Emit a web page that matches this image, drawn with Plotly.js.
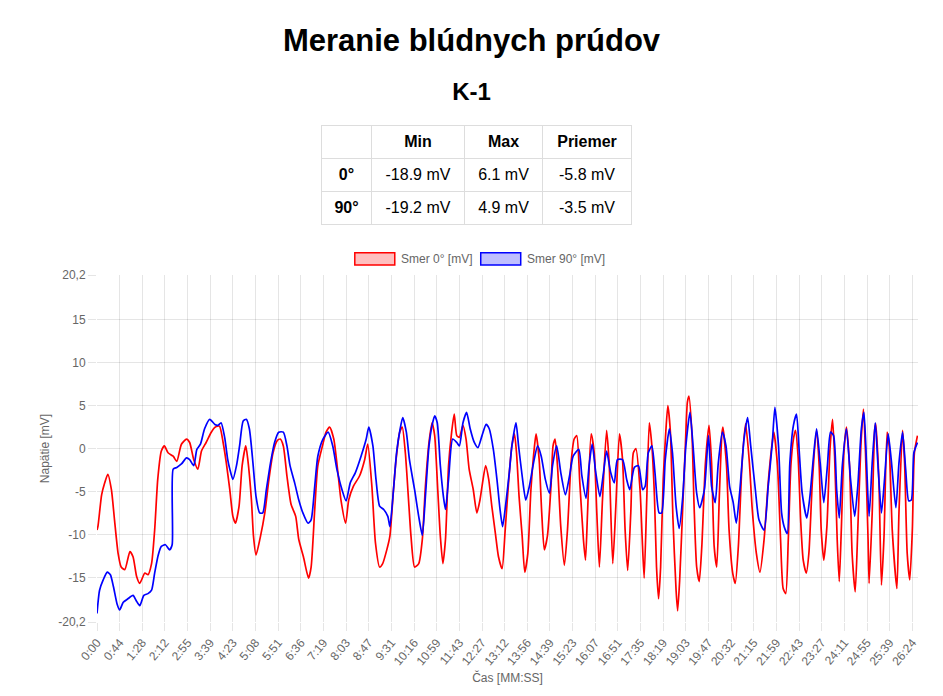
<!DOCTYPE html>
<html>
<head>
<meta charset="utf-8">
<script src="https://cdn.plot.ly/plotly-3.0.1.min.js"></script>
<style>
  html, body { margin: 0; padding: 0; background: #fff; overflow: hidden; }
  body { width: 943px; height: 696px; position: relative; font-family: "Liberation Sans", Arial, sans-serif; color: #000; }
  #title { position: absolute; top: 22px; left: 0; width: 943px; text-align: center; font-size: 31px; font-weight: bold; line-height: 37px; }
  #sub { position: absolute; top: 78px; left: 0; width: 943px; text-align: center; font-size: 24px; font-weight: bold; line-height: 28px; }
  #stats { position: absolute; top: 125px; left: 321px; border-collapse: collapse; table-layout: fixed; font-size: 16px; }
  #stats td, #stats th { border: 1px solid #ddd; height: 32px; padding: 0; text-align: center; }
  #stats th { font-weight: bold; }
  #chart { position: absolute; top: 230px; left: 0; width: 943px; height: 466px; }
</style>
</head>
<body>
<div id="title">Meranie blúdnych prúdov</div>
<div id="sub">K-1</div>
<table id="stats"></table>
<div id="chart"></div>
<script>
// súhrnná tabuľka
const statCols = ['Min', 'Max', 'Priemer'];
const statRows = ['0°', '90°'];
const statMin = [-18.9, -19.2];
const statMax = [6.1, 4.9];
const statAvg = [-5.8, -3.5];

// popisy osi x (kazdy 44. s)
const timeLabels = ['0:00','0:44','1:28','2:12','2:55','3:39','4:23','5:08','5:51','6:36','7:19','8:03',
  '8:47','9:31','10:16','10:59','11:43','12:27','13:12','13:56','14:39','15:23','16:07','16:51',
  '17:35','18:19','19:03','19:47','20:32','21:15','21:59','22:43','23:27','24:11','24:55','25:39','26:24'];

// Smer 0° - cas [s], napatie [mV]
const t0 = [0,2,9,15,21,28,34,41,47,54,64,70,77,83,93,99,106,112,118,125,131,138,148,155,164,174,180,188,196,203,212,222,230,238,245,251,
  258,264,269,276,282,289,293,300,304,309,317,326,334,342,350,356,362,369,377,386,392,401,411,416,423,429,438,445,452,460,468,474,483,489,498,510,520,526,
  534,541,549,555,563,569,576,581,588,593,599,606,610,617,625,632,638,645,651,656,662,667,672,677,683,689,694,699,704,711,717,723,731,738,744,749,755,761,767,774,780,787,793,800,806,
  811,815,820,826,831,837,843,850,853,859,864,869,875,882,886,890,895,901,908,914,921,927,932,938,945,949,953,960,966,971,976,982,990,995,1002,1008,1015,1021,1026,1031,1037,1042,1047,1055,1059,1063,1068,1073,
  1078,1083,1087,1091,1095,1100,1105,1109,1114,1119,1125,1128,1132,1138,1143,1147,1150,1156,1160,1165,1170,1175,1182,1189,1194,1199,1204,1209,1214,1216,1223,1228,1235,1240,1246,1253,1260,1267,1273,1281,1288,1296,1304,1311,1315,1322,1328,1333,
  1338,1343,1348,1353,1357,1362,1367,1372,1378,1383,1390,1398,1403,1407,1412,1418,1424,1429,1433,1438,1442,1446,1451,1456,1462,1467,1473,1478,1484,1489,1493,1498,1500,1506,1511,1513,1519,1524,1529,1535,1539,1545,1554,1558,1565,1569,1574,1579,1584,1588,1594];
const v0 = [-9.5,-9.0,-5.4,-4.0,-3.0,-4.8,-8.3,-12.2,-13.8,-14.1,-12.0,-12.6,-14.9,-15.7,-14.5,-14.7,-13.4,-9.5,-3.6,-0.3,0.3,-0.5,-0.9,-1.5,0.5,1.1,0.7,-1.3,-2.4,-0.3,0.7,1.9,2.5,2.6,0.7,-1.6,
  -4.8,-7.9,-8.7,-6.7,-2.0,0.3,-1.3,-6.0,-10.2,-12.4,-10.4,-7.5,-3.6,-0.5,0.9,1.1,0.3,-3.2,-6.5,-7.9,-10.6,-12.6,-15.1,-13.8,-7.1,-2.0,0.3,1.9,2.5,1.1,-2.8,-6.0,-8.7,-6.0,-4.4,-3.2,-1.3,0.5,
  -4.4,-11.0,-13.8,-13.4,-11.8,-10.2,-4.8,-1.3,1.9,2.5,-0.5,-6.7,-10.2,-13.8,-13.4,-10.6,-4.4,0.7,3.0,1.5,-4.8,-10.2,-13.4,-10.6,-2.0,1.9,4.0,1.5,1.3,2.7,1.1,-2.4,-4.8,-7.5,-6.0,-4.0,-2.0,-3.6,-6.7,-9.9,-12.6,-14.0,-9.5,-3.6,0.3,
  1.7,-0.5,-5.6,-10.2,-14.4,-12.2,-4.8,0.3,1.7,-1.3,-7.5,-11.8,-10.2,-4.4,0.3,1.1,-2.4,-9.1,-13.6,-9.5,-1.7,1.1,1.5,-4.0,-10.6,-13.0,-7.5,1.7,-0.5,-7.5,-13.8,-6.0,2.1,-1.7,-13.4,-6.7,1.7,-1.3,-9.5,-14.2,-7.5,-0.5,0.0,-4.8,-10.2,-15.1,-6.0,3.0,
  0.3,-5.6,-13.8,-17.5,-13.8,-3.6,1.9,5.0,1.9,-8.3,-16.5,-18.9,-15.3,-6.7,0.3,5.4,6.1,1.5,-6.7,-13.8,-15.5,-11.4,-1.7,2.7,-1.7,-11.4,-13.8,-5.6,1.7,2.5,-2.0,-9.5,-14.5,-15.7,-11.4,-2.0,2.9,-1.3,-7.1,-12.2,-14.4,-10.6,-4.0,0.3,1.9,-2.0,-10.6,-16.3,
  -16.9,-10.6,-2.0,1.1,2.1,-0.9,-8.3,-13.0,-14.5,-12.2,-3.6,2.1,-2.0,-9.5,-13.0,-9.1,-0.1,3.4,-0.9,-10.6,-15.5,-9.5,-0.5,2.5,-2.0,-12.2,-16.7,-9.5,0.3,4.6,-0.5,-10.6,-15.7,-7.5,2.3,2.9,-3.6,-15.9,-10.2,1.9,0.3,-9.5,-16.3,-7.5,2.1,-1.7,-12.2,-15.3,-9.5,-0.5,1.5];

// Smer 90° - cas [s], napatie [mV]
const t90 = [0,5,12,20,26,32,39,44,51,60,70,76,83,91,99,106,112,119,125,133,141,146,148,155,164,174,180,188,194,201,209,219,229,235,241,248,254,
  258,264,271,277,284,290,296,303,309,316,322,329,337,345,353,362,369,375,384,392,400,410,416,423,429,439,449,458,466,476,484,492,502,513,523,528,
  536,542,549,557,565,569,576,582,589,594,601,607,617,625,632,638,645,651,656,661,667,673,677,683,691,699,704,711,718,725,733,740,748,756,762,770,777,783,788,795,801,806,
  814,819,826,833,840,848,856,863,871,879,885,893,901,910,918,925,936,942,950,956,962,969,977,984,990,998,1005,1011,1021,1029,1035,1044,1052,1060,1065,1071,1078,
  1084,1092,1097,1104,1112,1118,1125,1131,1138,1144,1152,1158,1165,1171,1180,1188,1194,1201,1207,1215,1222,1229,1236,1242,1249,1257,1264,1270,1279,1286,1296,1304,1312,1317,1324,1330,
  1335,1341,1346,1353,1359,1364,1370,1379,1385,1392,1398,1405,1412,1419,1425,1431,1437,1442,1448,1456,1464,1472,1478,1485,1490,1495,1500,1506,1512,1517,1524,1530,1537,1543,1552,1558,1565,1571,1577,1582,1587,1594];
const v90 = [-19.2,-16.5,-15.3,-14.4,-14.7,-16.1,-18.1,-18.8,-17.9,-17.5,-17.1,-17.7,-18.3,-17.1,-16.9,-16.5,-14.5,-12.4,-11.4,-11.2,-11.8,-11.2,-2.4,-2.2,-1.8,-1.1,-1.3,-2.0,-0.1,0.5,2.3,3.4,2.8,2.7,3.0,1.3,-1.3,
  -2.4,-3.6,-2.0,0.3,3.2,3.4,2.3,-1.7,-5.6,-7.5,-7.5,-4.8,-1.7,0.7,1.9,1.9,0.3,-2.0,-4.0,-6.0,-7.5,-8.7,-8.3,-4.4,-0.9,1.1,1.9,0.3,-2.4,-4.8,-6.1,-4.0,-2.8,-0.9,1.1,2.5,
  0.3,-3.6,-6.7,-7.1,-7.9,-9.1,-4.8,-0.5,2.3,3.6,1.9,-1.3,-4.8,-7.9,-10.1,-5.6,0.3,2.7,3.8,3.0,-2.0,-5.6,-7.1,-3.6,1.1,0.7,0.3,3.0,4.2,2.3,0.7,0.1,1.5,2.8,2.3,-0.1,-3.6,-7.1,-9.1,-6.0,-2.8,0.3,
  3.0,0.3,-3.2,-6.0,-4.4,-1.7,0.3,-0.9,-3.6,-5.2,-2.0,0.3,-2.8,-5.4,-3.2,-0.9,-0.1,-3.2,-5.8,-2.0,0.5,-2.8,-5.6,-2.8,-0.3,-2.8,-4.0,-1.3,-1.3,-3.6,-4.8,-2.2,-2.0,-4.8,-4.4,-0.5,0.3,
  -2.8,-7.5,-7.5,-1.3,2.3,-0.5,-6.7,-9.3,-5.6,0.3,4.2,0.3,-5.2,-6.9,-4.8,1.5,-4.4,-6.3,-1.7,1.9,0.3,-4.4,-6.3,-8.7,-4.8,1.1,3.6,0.3,-4.8,-8.3,-9.5,-4.4,0.7,4.8,0.3,-7.5,
  -9.1,-9.9,-1.7,2.7,4.0,-0.1,-5.2,-8.1,-5.6,-0.9,2.3,-1.7,-6.3,-2.0,1.9,1.5,-4.8,-8.1,-2.0,2.3,-3.6,-7.9,-4.4,2.3,4.2,-1.7,-7.9,-1.7,3.0,-1.7,-7.5,-3.6,1.7,-1.3,-6.9,-1.7,1.9,-2.4,-6.1,-6.0,-0.5,0.7];

// tabulka
const tbl = document.getElementById('stats');
const colW = [49, 92, 77, 88];
let html = '<tr><th style="width:' + colW[0] + 'px"></th>';
statCols.forEach((c, i) => { html += '<th style="width:' + colW[i + 1] + 'px">' + c + '</th>'; });
html += '</tr>';
statRows.forEach((r, i) => {
  html += '<tr><th>' + r + '</th><td>' + statMin[i].toFixed(1) + ' mV</td><td>' +
    statMax[i].toFixed(1) + ' mV</td><td>' + statAvg[i].toFixed(1) + ' mV</td></tr>';
});
tbl.innerHTML = html;

const grid = 'rgba(0,0,0,0.1)';
const txt = '#666';

const traces = [
  {x: t0, y: v0, type: 'scatter', mode: 'lines', name: 'Smer 0° [mV]',
   line: {color: 'rgb(255,0,0)', width: 1.7, shape: 'spline', smoothing: 0.6}},
  {x: t90, y: v90, type: 'scatter', mode: 'lines', name: 'Smer 90° [mV]',
   line: {color: 'rgb(0,0,255)', width: 1.7, shape: 'spline', smoothing: 0.6}}
];

const yTicks = [-20.2, -15, -10, -5, 0, 5, 10, 15, 20.2];

const layout = {
  width: 943, height: 466,
  margin: {l: 97, r: 25, t: 45, b: 74},
  paper_bgcolor: '#fff', plot_bgcolor: '#fff',
  font: {family: 'Liberation Sans, Arial, sans-serif', size: 12, color: txt},
  showlegend: false,
  xaxis: {
    range: [0, 1595],
    tickvals: timeLabels.map((l, i) => i * 44),
    ticktext: timeLabels,
    tickangle: -50,
    ticks: 'outside', ticklen: 8, tickcolor: grid,
    showgrid: true, gridcolor: grid, zeroline: false, showline: false,
    tickfont: {size: 12, color: txt},
    title: {text: 'Čas [MM:SS]', font: {size: 12, color: txt}, standoff: 6}
  },
  yaxis: {
    range: [-20.2, 20.2],
    tickvals: yTicks,
    ticktext: yTicks.map(v => String(v).replace('.', ',')),
    ticks: 'outside', ticklen: 8, tickcolor: grid,
    showgrid: true, gridcolor: grid, zeroline: false, showline: false,
    tickfont: {size: 12, color: txt},
    title: {text: 'Napätie [mV]', font: {size: 12, color: txt}, standoff: 6}
  },
  shapes: [
    {type: 'rect', xref: 'paper', yref: 'paper', x0: 0.3140, x1: 0.3627, y0: 1.029, y1: 1.064,
     fillcolor: 'rgba(255,0,0,0.25)', line: {color: 'rgb(255,0,0)', width: 1.5}},
    {type: 'rect', xref: 'paper', yref: 'paper', x0: 0.4674, x1: 0.5161, y0: 1.029, y1: 1.064,
     fillcolor: 'rgba(0,0,255,0.25)', line: {color: 'rgb(0,0,255)', width: 1.5}}
  ],
  annotations: [
    {xref: 'paper', yref: 'paper', x: 0.3675, y: 1.046, xanchor: 'left', yanchor: 'middle',
     text: 'Smer 0° [mV]', showarrow: false, font: {size: 12, color: txt}},
    {xref: 'paper', yref: 'paper', x: 0.5209, y: 1.046, xanchor: 'left', yanchor: 'middle',
     text: 'Smer 90° [mV]', showarrow: false, font: {size: 12, color: txt}}
  ]
};

Plotly.newPlot('chart', traces, layout, {displayModeBar: false, staticPlot: true});
</script>
</body>
</html>
